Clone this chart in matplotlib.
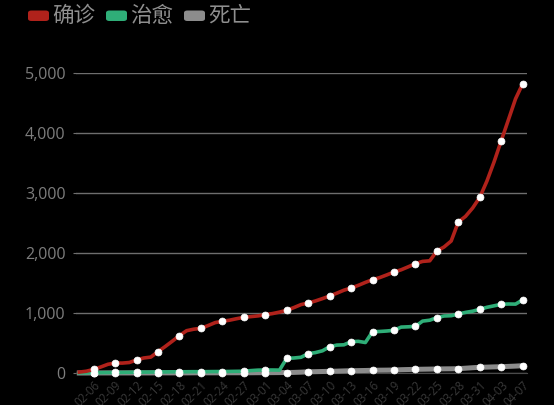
import pandas as pd
import matplotlib.pyplot as plt
from matplotlib.patches import FancyBboxPatch
from matplotlib.ticker import FuncFormatter

plt.rcParams['font.family'] = ['Noto Sans CJK SC', 'DejaVu Sans']

# categories: daily dates, 04-06 is missing in the source
dates = pd.date_range("2020-02-04", "2020-04-07").strftime("%m-%d").tolist()
dates.remove("04-06")

confirmed = [15, 30, 60, 100, 145, 167, 165, 175, 217, 250, 265, 355, 440, 530, 622, 705,
             730, 745, 790, 840, 862, 880, 905, 928, 940, 952,
             972, 990, 1015, 1045, 1090, 1140, 1167, 1200, 1240, 1283, 1330, 1380, 1417, 1460,
             1510, 1555, 1590, 1635, 1683, 1720, 1770, 1822, 1860, 1870, 2033, 2100, 2200, 2517,
             2610, 2750, 2928,
             3200, 3520, 3872, 4220, 4570, 4822]
recovered = [2, 3, 5, 6, 8, 10, 10, 12, 14, 15, 16, 18, 18, 20, 20, 21, 22, 22, 23, 24, 25,
             26, 28, 30, 40, 48,
             50, 50, 48, 245, 250, 262, 322, 340, 370, 438, 465, 470, 522, 528, 508, 688, 692,
             700, 712, 765, 770, 778, 865, 880, 922, 950, 955, 983, 1010, 1030, 1062,
             1095, 1120, 1145, 1150, 1148, 1220]
deaths = [0, 0, 1, 1, 1, 1, 1, 1, 1, 1, 1, 2, 2, 2, 2, 2, 3, 3, 3, 3, 4, 4, 4, 4, 4, 5,
          5, 6, 7, 8, 10, 14, 20, 22, 25, 28, 31, 35, 38, 40, 42, 45, 47, 48, 50, 55, 58, 61,
          63, 65, 67, 69, 70, 72, 80, 88, 95,
          98, 102, 105, 110, 115, 122]

series_names = ["确诊", "治愈", "死亡"]
series_colors = ["#b0221b", "#2fae78", "#8c8c8c"]
series_widths = [2.6, 2.6, 3.6]

fig = plt.figure(figsize=(5.54, 4.05), dpi=100)
fig.patch.set_facecolor("black")
W, H = 554, 405
ax = fig.add_axes([76 / W, 32 / H, 451 / W, 300 / H])
ax.set_facecolor("black")

x = list(range(len(dates)))
mark = slice(2, None, 3)  # a symbol on every labelled date

lines = [confirmed, recovered, deaths]
for vals, c, lw, z in zip(lines, series_colors, series_widths, [5, 4, 3]):
    ax.plot(x, vals, color=c, linewidth=lw, solid_joinstyle="round", zorder=z,
            marker="o", markevery=mark, markersize=5, markerfacecolor="white",
            markeredgecolor="white", markeredgewidth=0.5, clip_on=False)

ax.set_xlim(-0.46, 62.6)
ax.set_ylim(0, 5000)
ax.set_yticks([0, 1000, 2000, 3000, 4000, 5000])
ax.yaxis.set_major_formatter(FuncFormatter(lambda v, p: f"{int(v):,}"))
ax.grid(axis="y", color="#6e6e6e", linewidth=1)
ax.set_axisbelow(True)

ax.set_xticks(x[2::3])
ax.set_xticklabels(dates[2::3], rotation=45, ha="right", va="top", rotation_mode="anchor")
ax.tick_params(axis="x", length=0, pad=4, labelsize=8.3, labelcolor="#383838")
ax.tick_params(axis="y", length=2.5, color="#6e6e6e", pad=5, labelsize=11.5, labelcolor="#7d7d7d")
for lab in ax.get_xticklabels() + ax.get_yticklabels():
    lab.set_fontfamily(["Open Sans", "DejaVu Sans"])

for s in ["top", "right", "left"]:
    ax.spines[s].set_visible(False)
ax.spines["bottom"].set_color("#4a4a4a")

# legend at the top
legend_x = [28, 106, 184]
for name, c, lx in zip(series_names, series_colors, legend_x):
    box = FancyBboxPatch((lx / W, (H - 21) / H), 21 / W, 10.5 / H,
                         boxstyle="round,pad=0,rounding_size=0.006",
                         transform=fig.transFigure, facecolor=c, edgecolor="none")
    fig.patches.append(box)
    fig.text((lx + 24) / W, (H - 15.5) / H, name, color="#8f8f8f", fontsize=15.5,
             ha="left", va="center")

plt.savefig("out.png", dpi=100, facecolor="black")
